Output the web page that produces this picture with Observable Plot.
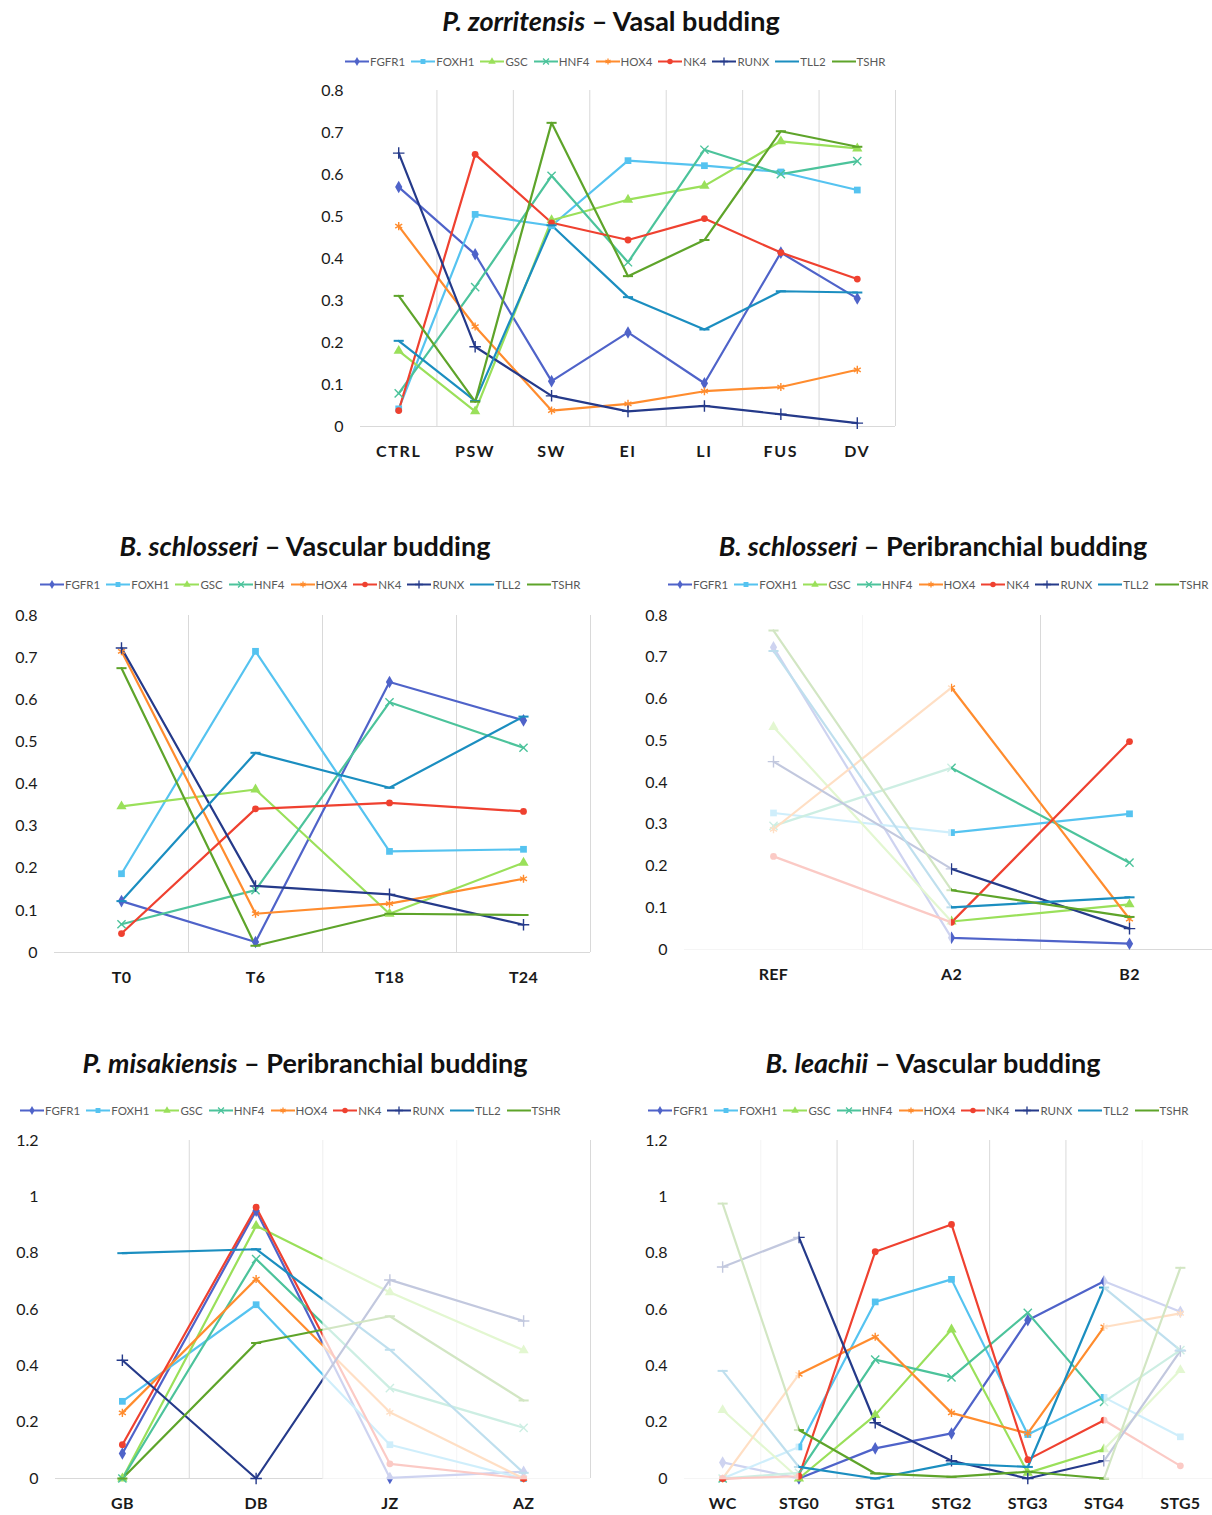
<!DOCTYPE html>
<html>
<head>
<meta charset="utf-8">
<script src="https://cdn.jsdelivr.net/npm/d3@7"></script>
<script src="https://cdn.jsdelivr.net/npm/@observablehq/plot@0.6"></script>
<style>
  body { margin: 0; background: #fff; }
  #root { position: relative; width: 1212px; height: 1515px; overflow: hidden; background: #fff; font-family: Lato, "Open Sans", sans-serif; }
  .title { position: absolute; transform: translate(-50%, -50%); white-space: nowrap; font-weight: 700; font-size: 27px; color: #111; }
  .title i { font-style: italic; }
  .legend { position: absolute; transform: translateY(-50%); display: flex; align-items: center; white-space: nowrap; font-size: 11.5px; color: #595959; }
  .legend .item { display: flex; align-items: center; margin-right: 6px; }
  .legend svg { display: block; margin-right: 1px; }
  .chart { position: absolute; overflow: visible; }
  .chart svg { max-width: none !important; overflow: visible; }
</style>
</head>
<body>
<div id="root"></div>
<script>
// ---------- series definitions ----------
const genes = ["FGFR1", "FOXH1", "GSC", "HNF4", "HOX4", "NK4", "RUNX", "TLL2", "TSHR"];
const geneColors = ["#4F63C9", "#55C3F0", "#9AE05A", "#4CC39B", "#FF8C2E", "#EF4130", "#253A8A", "#1B8EC0", "#5EA42A"];
const geneMarkers = ["diamond", "square", "triangle", "times", "asterisk", "circle", "plus", "dash", "dash"];

// ---------- P. zorritensis – Vasal budding ----------
const zorCategories = ["CTRL", "PSW", "SW", "EI", "LI", "FUS", "DV"];
const zorValues = {
  FGFR1: [0.570, 0.410, 0.108, 0.224, 0.103, 0.414, 0.305],
  FOXH1: [0.042, 0.505, 0.478, 0.633, 0.621, 0.606, 0.563],
  GSC:   [0.180, 0.036, 0.491, 0.540, 0.573, 0.679, 0.662],
  HNF4:  [0.079, 0.332, 0.597, 0.391, 0.659, 0.601, 0.632],
  HOX4:  [0.477, 0.238, 0.038, 0.054, 0.084, 0.094, 0.135],
  NK4:   [0.038, 0.648, 0.485, 0.444, 0.495, 0.414, 0.351],
  RUNX:  [0.651, 0.190, 0.073, 0.036, 0.049, 0.029, 0.008],
  TLL2:  [0.204, 0.061, 0.479, 0.308, 0.231, 0.322, 0.319],
  TSHR:  [0.311, 0.059, 0.723, 0.358, 0.444, 0.703, 0.666]
};

// ---------- B. schlosseri – Vascular budding ----------
const vasCategories = ["T0", "T6", "T18", "T24"];
const vasValues = {
  FGFR1: [0.122, 0.025, 0.642, 0.551],
  FOXH1: [0.187, 0.715, 0.240, 0.245],
  GSC:   [0.347, 0.387, 0.092, 0.213],
  HNF4:  [0.067, 0.148, 0.594, 0.486],
  HOX4:  [0.715, 0.092, 0.116, 0.175],
  NK4:   [0.045, 0.341, 0.355, 0.335],
  RUNX:  [0.723, 0.158, 0.138, 0.066],
  TLL2:  [0.122, 0.474, 0.391, 0.560],
  TSHR:  [0.675, 0.016, 0.092, 0.089]
};

// ---------- B. schlosseri – Peribranchial budding ----------
const periCategories = ["REF", "A2", "B2"];
const periValues = {
  FGFR1: [0.724, 0.028, 0.014],
  FOXH1: [0.327, 0.280, 0.325],
  GSC:   [0.533, 0.067, 0.108],
  HNF4:  [0.296, 0.435, 0.208],
  HOX4:  [0.288, 0.627, 0.073],
  NK4:   [0.223, 0.065, 0.498],
  RUNX:  [0.450, 0.193, 0.050],
  TLL2:  [0.715, 0.101, 0.125],
  TSHR:  [0.764, 0.142, 0.078]
};

// ---------- P. misakiensis – Peribranchial budding ----------
const misaCategories = ["GB", "DB", "JZ", "AZ"];
const misaValues = {
  FGFR1: [0.089, 0.951, 0.002, 0.024],
  FOXH1: [0.274, 0.617, 0.120, 0.000],
  GSC:   [0.000, 0.897, 0.661, 0.455],
  HNF4:  [0.000, 0.779, 0.321, 0.180],
  HOX4:  [0.233, 0.708, 0.235, 0.000],
  NK4:   [0.120, 0.963, 0.052, 0.000],
  RUNX:  [0.420, 0.000, 0.705, 0.559],
  TLL2:  [0.800, 0.814, 0.457, 0.020],
  TSHR:  [0.000, 0.481, 0.576, 0.277]
};

// ---------- B. leachii – Vascular budding ----------
const leachCategories = ["WC", "STG0", "STG1", "STG2", "STG3", "STG4", "STG5"];
const leachValues = {
  FGFR1: [0.057, 0.000, 0.107, 0.160, 0.562, 0.700, 0.592],
  FOXH1: [0.000, 0.112, 0.627, 0.707, 0.156, 0.288, 0.148],
  GSC:   [0.243, 0.000, 0.225, 0.529, 0.020, 0.104, 0.385],
  HNF4:  [0.000, 0.020, 0.422, 0.359, 0.588, 0.272, 0.456],
  HOX4:  [0.000, 0.370, 0.503, 0.233, 0.160, 0.538, 0.586],
  NK4:   [0.000, 0.008, 0.805, 0.902, 0.067, 0.207, 0.045],
  RUNX:  [0.751, 0.856, 0.198, 0.063, 0.000, 0.063, 0.453],
  TLL2:  [0.382, 0.041, 0.000, 0.053, 0.041, 0.678, 0.455],
  TSHR:  [0.976, 0.172, 0.018, 0.006, 0.024, 0.000, 0.748]
};

// ---------- marker shapes ----------
const symbolDash = { draw(ctx, size) { const w = Math.sqrt(size) * 0.75; ctx.moveTo(-w, 0); ctx.lineTo(w, 0); } };
const markerTypes = {
  diamond: d3.symbolDiamond, square: d3.symbolSquare, triangle: d3.symbolTriangle,
  circle: d3.symbolCircle, times: d3.symbolTimes, asterisk: d3.symbolAsterisk,
  plus: d3.symbolPlus, dash: symbolDash
};
const strokeMarkers = new Set(["times", "asterisk", "plus", "dash"]);

// ---------- panel layout ----------
const panels = [
  { species: "P. zorritensis", mode: "Vasal budding", categories: zorCategories, values: zorValues,
    ymax: 0.8, ystep: 0.1, fades: [], wide: true,
    titleX: 611, titleY: 20, legendX: 345, legendY: 61,
    box: { left: 300, top: 80, width: 600, height: 390, ml: 60, mr: 5, mt: 10, mb: 44 } },
  { species: "B. schlosseri", mode: "Vascular budding", categories: vasCategories, values: vasValues,
    ymax: 0.8, ystep: 0.1, fades: [],
    titleX: 305, titleY: 545, legendX: 40, legendY: 584,
    box: { left: 0, top: 605, width: 600, height: 390, ml: 54, mr: 10, mt: 10, mb: 43 } },
  { species: "B. schlosseri", mode: "Peribranchial budding", categories: periCategories, values: periValues,
    ymax: 0.8, ystep: 0.1, fades: [[-0.5, 1]],
    titleX: 933, titleY: 545, legendX: 668, legendY: 584,
    box: { left: 612, top: 605, width: 606, height: 390, ml: 72, mr: 0, mt: 10, mb: 46 } },
  { species: "P. misakiensis", mode: "Peribranchial budding", categories: misaCategories, values: misaValues,
    ymax: 1.2, ystep: 0.2, fades: [[1.5, 3.5]],
    titleX: 305, titleY: 1062, legendX: 20, legendY: 1110,
    box: { left: 0, top: 1130, width: 600, height: 385, ml: 55, mr: 10, mt: 10, mb: 37 } },
  { species: "B. leachii", mode: "Vascular budding", categories: leachCategories, values: leachValues,
    ymax: 1.2, ystep: 0.2, fades: [[-0.5, 1], [5, 6.5]],
    titleX: 933, titleY: 1062, legendX: 648, legendY: 1110,
    box: { left: 612, top: 1130, width: 606, height: 385, ml: 72, mr: 0, mt: 10, mb: 37 } }
];

const root = d3.select("#root");

function addLegend(p) {
  const lg = root.append("div").attr("class", "legend")
    .style("left", p.legendX + "px").style("top", p.legendY + "px");
  genes.forEach((g, gi) => {
    const item = lg.append("div").attr("class", "item");
    const s = item.append("svg").attr("width", 24).attr("height", 10);
    s.append("line").attr("x1", 0).attr("x2", 24).attr("y1", 5).attr("y2", 5)
      .attr("stroke", geneColors[gi]).attr("stroke-width", 2);
    const m = geneMarkers[gi];
    if (m !== "dash") {
      const path = s.append("path").attr("transform", "translate(12,5)")
        .attr("d", d3.symbol(markerTypes[m], 24)());
      if (strokeMarkers.has(m)) path.attr("fill", "none").attr("stroke", geneColors[gi]).attr("stroke-width", 1.3);
      else path.attr("fill", geneColors[gi]);
    }
    item.append("span").text(g);
  });
}

function addTitle(p) {
  const t = root.append("div").attr("class", "title")
    .style("left", p.titleX + "px").style("top", p.titleY + "px");
  t.append("i").text(p.species);
  t.append("span").text(" \u2013 " + p.mode);
}

function addChart(p) {
  const n = p.categories.length;
  const b = p.box;
  const marks = [
    Plot.ruleX(d3.range(n).map(i => i + 0.5), { stroke: "#d9d9d9", strokeWidth: 1 }),
    Plot.ruleY([0], { stroke: "#d9d9d9", strokeWidth: 1 })
  ];
  genes.forEach((g, gi) => {
    const rows = p.values[g].map((v, i) => ({ i, v }));
    marks.push(Plot.line(rows, { x: "i", y: "v", stroke: geneColors[gi], strokeWidth: 2.2, strokeLinejoin: "round" }));
  });
  genes.forEach((g, gi) => {
    const rows = p.values[g].map((v, i) => ({ i, v }));
    const m = geneMarkers[gi];
    const opts = { x: "i", y: "v", symbol: markerTypes[m], r: m === "circle" ? 3.4 : 3.8 };
    if (strokeMarkers.has(m)) Object.assign(opts, { fill: "none", stroke: geneColors[gi], strokeWidth: m === "dash" ? 2 : 1.4 });
    else Object.assign(opts, { fill: geneColors[gi], stroke: "none" });
    marks.push(Plot.dot(rows, opts));
  });
  if (p.fades.length) {
    marks.push(Plot.rect(p.fades, {
      x1: d => d[0], x2: d => d[1], y1: () => -0.004 * p.ymax, y2: () => p.ymax * 1.01,
      fill: "white", fillOpacity: 0.72
    }));
  }
  const svg = Plot.plot({
    width: b.width, height: b.height,
    marginLeft: b.ml, marginRight: b.mr, marginTop: b.mt, marginBottom: b.mb,
    style: { fontFamily: "Lato, 'Open Sans', sans-serif", fontSize: "16px", color: "#1a1a1a", background: "transparent", maxWidth: "none", overflow: "visible" },
    x: { domain: [-0.5, n - 0.5], ticks: d3.range(n), tickFormat: i => p.categories[i], tickSize: 0, tickPadding: 19, label: null },
    y: { domain: [0, p.ymax], ticks: d3.ticks(0, p.ymax, Math.round(p.ymax / p.ystep)), tickFormat: d3.format("~g"), tickSize: 0, tickPadding: 17, label: null },
    marks
  });
  const holder = root.append("div").attr("class", "chart")
    .style("left", b.left + "px").style("top", b.top + "px")
    .style("width", b.width + "px").style("height", b.height + "px");
  holder.node().appendChild(svg);
  const sel = d3.select(svg);
  sel.selectAll('[aria-label^="x-axis"] text').style("font-weight", "700").style("font-size", "16px")
    .style("letter-spacing", p.wide ? "1.6px" : "0.3px");
}

panels.forEach(p => { addTitle(p); addLegend(p); addChart(p); });
</script>
</body>
</html>
